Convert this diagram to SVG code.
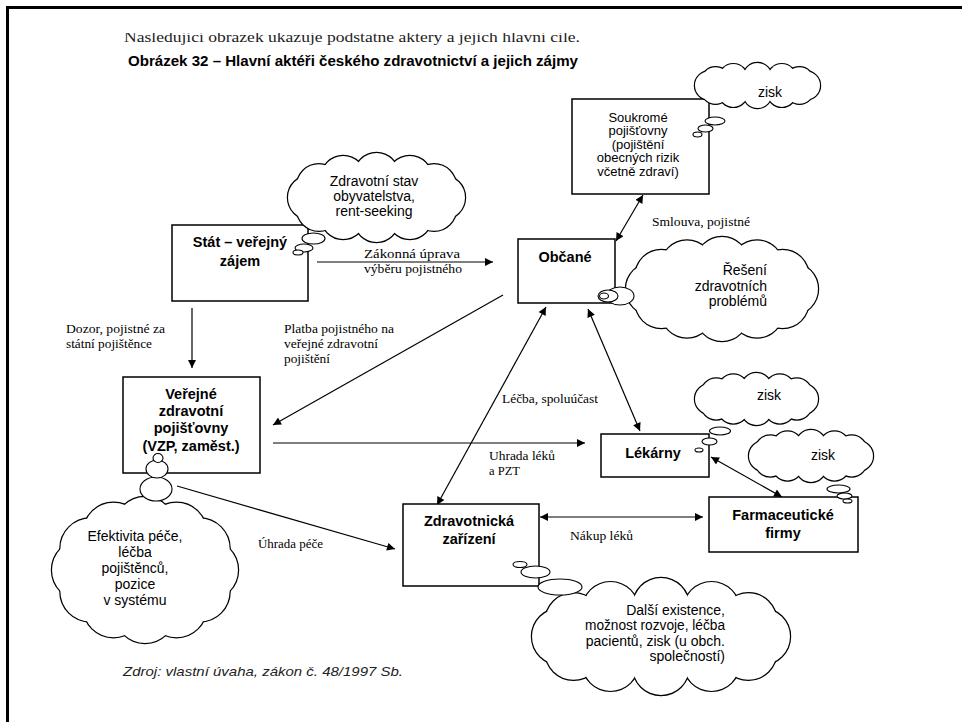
<svg xmlns="http://www.w3.org/2000/svg" xmlns:xlink="http://www.w3.org/1999/xlink" width="962" height="722" viewBox="0 0 962 722">
<style>
.box{fill:#fff;stroke:#000;stroke-width:1.5}
.bt{font-family:"Liberation Sans",Arial,sans-serif;font-weight:bold;font-size:14.5px;text-anchor:middle;fill:#000}
.ct{font-family:"Liberation Sans",Arial,sans-serif;font-size:14px;fill:#000}
.st{font-family:"Liberation Sans",Arial,sans-serif;font-size:13px;fill:#000;text-anchor:middle}
.lb{font-family:"Liberation Serif","Times New Roman",serif;font-size:13px;fill:#000}
.ln{stroke:#000;stroke-width:1.2;fill:none}
.one{marker-end:url(#ah)}
.two{marker-start:url(#ah);marker-end:url(#ah)}
.cs{fill:#fff;stroke:#000;stroke-width:2.4}
.cf{fill:#fff;stroke:none}
.bub{fill:#fff;stroke:#000;stroke-width:1.1}
</style>
<defs>
<marker id="ah" viewBox="0 0 10 10" refX="10" refY="5" markerWidth="10" markerHeight="8" markerUnits="userSpaceOnUse" orient="auto-start-reverse"><path d="M0,0 L10,5 L0,10 z" fill="#000"/></marker>
<clipPath id="introClip"><rect x="0" y="33" width="962" height="30"/></clipPath>
<g id="cA">
<circle cx="443" cy="197.5" r="22"/><circle cx="434.1" cy="208.8" r="22"/><circle cx="409.8" cy="217" r="22"/><circle cx="376.5" cy="220" r="22"/><circle cx="343.2" cy="217" r="22"/><circle cx="318.9" cy="208.8" r="22"/><circle cx="310" cy="197.5" r="22"/><circle cx="318.9" cy="186.2" r="22"/><circle cx="343.2" cy="178" r="22"/><circle cx="376.5" cy="175" r="22"/><circle cx="409.8" cy="178" r="22"/><circle cx="434.1" cy="186.2" r="22"/>
<ellipse cx="376.5" cy="197.5" rx="66.5" ry="22.5" stroke="none"/>
</g>
<g id="cB">
<circle cx="806" cy="85.5" r="14"/><circle cx="799.5" cy="89.8" r="14"/><circle cx="781.8" cy="92.9" r="14"/><circle cx="757.5" cy="94" r="14"/><circle cx="733.3" cy="92.9" r="14"/><circle cx="715.5" cy="89.8" r="14"/><circle cx="709" cy="85.5" r="14"/><circle cx="715.5" cy="81.3" r="14"/><circle cx="733.3" cy="78.1" r="14"/><circle cx="757.5" cy="77" r="14"/><circle cx="781.8" cy="78.1" r="14"/><circle cx="799.5" cy="81.3" r="14"/>
<ellipse cx="757.5" cy="85.5" rx="48.5" ry="8.5" stroke="none"/>
</g>
<g id="cC">
<circle cx="792" cy="289" r="26"/><circle cx="782.6" cy="302" r="26"/><circle cx="757" cy="311.5" r="26"/><circle cx="722" cy="315" r="26"/><circle cx="687" cy="311.5" r="26"/><circle cx="661.4" cy="302" r="26"/><circle cx="652" cy="289" r="26"/><circle cx="661.4" cy="276" r="26"/><circle cx="687" cy="266.5" r="26"/><circle cx="722" cy="263" r="26"/><circle cx="757" cy="266.5" r="26"/><circle cx="782.6" cy="276" r="26"/>
<ellipse cx="722" cy="289" rx="70" ry="26" stroke="none"/>
</g>
<g id="cD">
<circle cx="803" cy="399" r="15"/><circle cx="796.8" cy="404.5" r="15"/><circle cx="779.8" cy="408.5" r="15"/><circle cx="756.5" cy="410" r="15"/><circle cx="733.3" cy="408.5" r="15"/><circle cx="716.2" cy="404.5" r="15"/><circle cx="710" cy="399" r="15"/><circle cx="716.2" cy="393.5" r="15"/><circle cx="733.3" cy="389.5" r="15"/><circle cx="756.5" cy="388" r="15"/><circle cx="779.8" cy="389.5" r="15"/><circle cx="796.8" cy="393.5" r="15"/>
<ellipse cx="756.5" cy="399" rx="46.5" ry="11" stroke="none"/>
</g>
<g id="cE">
<circle cx="858" cy="456" r="15"/><circle cx="851.7" cy="461.5" r="15"/><circle cx="834.5" cy="465.5" r="15"/><circle cx="811" cy="467" r="15"/><circle cx="787.5" cy="465.5" r="15"/><circle cx="770.3" cy="461.5" r="15"/><circle cx="764" cy="456" r="15"/><circle cx="770.3" cy="450.5" r="15"/><circle cx="787.5" cy="446.5" r="15"/><circle cx="811" cy="445" r="15"/><circle cx="834.5" cy="446.5" r="15"/><circle cx="851.7" cy="450.5" r="15"/>
<ellipse cx="811" cy="456" rx="47" ry="11" stroke="none"/>
</g>
<g id="cF">
<circle cx="208" cy="570" r="30"/><circle cx="199.6" cy="591.5" r="30"/><circle cx="176.5" cy="607.2" r="30"/><circle cx="145" cy="613" r="30"/><circle cx="113.5" cy="607.2" r="30"/><circle cx="90.4" cy="591.5" r="30"/><circle cx="82" cy="570" r="30"/><circle cx="90.4" cy="548.5" r="30"/><circle cx="113.5" cy="532.8" r="30"/><circle cx="145" cy="527" r="30"/><circle cx="176.5" cy="532.8" r="30"/><circle cx="199.6" cy="548.5" r="30"/>
<ellipse cx="145" cy="570" rx="63" ry="43" stroke="none"/>
</g>
<g id="cG">
<circle cx="762" cy="636.5" r="28"/><circle cx="748.5" cy="651.8" r="28"/><circle cx="711.5" cy="662.9" r="28"/><circle cx="661" cy="667" r="28"/><circle cx="610.5" cy="662.9" r="28"/><circle cx="573.5" cy="651.8" r="28"/><circle cx="560" cy="636.5" r="28"/><circle cx="573.5" cy="621.2" r="28"/><circle cx="610.5" cy="610.1" r="28"/><circle cx="661" cy="606" r="28"/><circle cx="711.5" cy="610.1" r="28"/><circle cx="748.5" cy="621.2" r="28"/>
<ellipse cx="661" cy="636.5" rx="101" ry="30.5" stroke="none"/>
</g>
</defs>
<rect x="0" y="0" width="962" height="722" fill="#fff"/>
<g id="frame">
<line x1="6" y1="7.5" x2="962" y2="7.5" stroke="#000" stroke-width="3"/>
<line x1="7.5" y1="6" x2="7.5" y2="722" stroke="#000" stroke-width="3"/>
</g>
<g id="header">
<text x="124" y="42" clip-path="url(#introClip)" font-family="'Liberation Serif','Times New Roman',serif" font-size="14.5" textLength="456" lengthAdjust="spacingAndGlyphs" fill="#222">Nasledujici obrazek ukazuje podstatne aktery a jejich hlavni cile.</text>
<text x="128" y="66" font-family="'Liberation Sans',Arial,sans-serif" font-weight="bold" font-size="14" textLength="450" lengthAdjust="spacingAndGlyphs" fill="#000">Obrázek 32 – Hlavní aktéři  českého  zdravotnictví  a jejich zájmy</text>
</g>
<g id="connectors">
<line class="ln one" x1="317" y1="262" x2="493" y2="262"/>
<text class="lb" x="364" y="258" textLength="96" lengthAdjust="spacingAndGlyphs">Zákonná úprava</text>
<text class="lb" x="364" y="273" textLength="98" lengthAdjust="spacingAndGlyphs">výběru pojistného</text>
<line class="ln one" x1="192" y1="308" x2="192" y2="368"/>
<text class="lb" x="66" y="333" textLength="99" lengthAdjust="spacingAndGlyphs">Dozor, pojistné za</text>
<text class="lb" x="66" y="348" textLength="86" lengthAdjust="spacingAndGlyphs">státní pojištěnce</text>
<line class="ln one" x1="503" y1="295" x2="273" y2="425"/>
<text class="lb" x="284" y="333" textLength="110" lengthAdjust="spacingAndGlyphs">Platba pojistného na</text>
<text class="lb" x="284" y="348" textLength="94" lengthAdjust="spacingAndGlyphs">veřejné zdravotní</text>
<text class="lb" x="284" y="363" textLength="46" lengthAdjust="spacingAndGlyphs">pojištění</text>
<line class="ln one" x1="273" y1="443" x2="585" y2="443"/>
<text class="lb" x="489" y="460" textLength="66" lengthAdjust="spacingAndGlyphs">Uhrada léků</text>
<text class="lb" x="489" y="475" textLength="31" lengthAdjust="spacingAndGlyphs">a PZT</text>
<line class="ln one" x1="177" y1="486" x2="395" y2="549"/>
<text class="lb" x="258" y="548" textLength="65" lengthAdjust="spacingAndGlyphs">Úhrada péče</text>
<line class="ln two" x1="616" y1="241" x2="643" y2="195"/>
<text class="lb" x="652" y="226" textLength="98" lengthAdjust="spacingAndGlyphs">Smlouva, pojistné</text>
<line class="ln two" x1="546" y1="307" x2="437" y2="505"/>
<text class="lb" x="502" y="403" textLength="96" lengthAdjust="spacingAndGlyphs">Léčba, spoluúčast</text>
<line class="ln two" x1="588" y1="309" x2="640" y2="431"/>
<line class="ln two" x1="711" y1="457" x2="782" y2="497"/>
<line class="ln two" x1="540" y1="517" x2="703" y2="517"/>
<text class="lb" x="570" y="540" textLength="63" lengthAdjust="spacingAndGlyphs">Nákup léků</text>
</g>
<g id="soukrome">
<rect class="box" x="572" y="99" width="137" height="95"/>
<text class="st" x="638" y="121.5">Soukromé</text>
<text class="st" x="638" y="135">pojišťovny</text>
<text class="st" x="638" y="148.5">(pojištění</text>
<text class="st" x="638" y="162">obecných rizik</text>
<text class="st" x="638" y="175.5">včetně zdraví)</text>
</g>
<g id="cloud-soukrome">
<use xlink:href="#cB" class="cs"/><use xlink:href="#cB" class="cf"/>
<text class="ct" x="770" y="97" text-anchor="middle">zisk</text>
<ellipse class="bub" cx="715" cy="121" rx="10" ry="4"/>
<ellipse class="bub" cx="705.5" cy="128.5" rx="7.5" ry="3.5"/>
<ellipse class="bub" cx="697.5" cy="134.5" rx="4.5" ry="2.5"/>
</g>
<g id="stat">
<rect class="box" x="172" y="225" width="136" height="76"/>
<text class="bt" x="240" y="247">Stát – veřejný</text>
<text class="bt" x="240" y="266">zájem</text>
</g>
<g id="cloud-stat">
<use xlink:href="#cA" class="cs"/><use xlink:href="#cA" class="cf"/>
<text class="ct" x="374" y="186" text-anchor="middle">Zdravotní stav</text>
<text class="ct" x="374" y="201" text-anchor="middle">obyvatelstva,</text>
<text class="ct" x="374" y="216" text-anchor="middle">rent-seeking</text>
<ellipse class="bub" cx="313.5" cy="238.5" rx="11.5" ry="5.5"/>
<ellipse class="bub" cx="304" cy="248" rx="9" ry="4"/>
<ellipse class="bub" cx="298" cy="252.5" rx="5" ry="2.5"/>
</g>
<g id="obcane">
<rect class="box" x="518" y="239" width="97" height="64"/>
<text class="bt" x="565" y="262">Občané</text>
</g>
<g id="cloud-obcane">
<use xlink:href="#cC" class="cs"/><use xlink:href="#cC" class="cf"/>
<text class="ct" x="767" y="275" text-anchor="end">Řešení</text>
<text class="ct" x="767" y="291" text-anchor="end">zdravotních</text>
<text class="ct" x="767" y="306" text-anchor="end">problémů</text>
<ellipse class="bub" cx="620" cy="296" rx="14" ry="9"/>
<ellipse class="bub" cx="608" cy="296" rx="10" ry="6"/>
<ellipse class="bub" cx="604" cy="296" rx="4.5" ry="3"/>
</g>
<g id="verejne">
<rect class="box" x="123" y="377" width="137" height="96"/>
<text class="bt" x="191" y="399">Veřejné</text>
<text class="bt" x="191" y="416">zdravotní</text>
<text class="bt" x="191" y="433">pojišťovny</text>
<text class="bt" x="191" y="451">(VZP, zaměst.)</text>
</g>
<g id="cloud-verejne">
<use xlink:href="#cF" class="cs"/><use xlink:href="#cF" class="cf"/>
<text class="ct" x="135" y="541" text-anchor="middle">Efektivita péče,</text>
<text class="ct" x="135" y="557" text-anchor="middle">léčba</text>
<text class="ct" x="135" y="573" text-anchor="middle">pojištěnců,</text>
<text class="ct" x="135" y="589" text-anchor="middle">pozice</text>
<text class="ct" x="135" y="605" text-anchor="middle">v systému</text>
<ellipse class="bub" cx="156" cy="489" rx="16" ry="12"/>
<ellipse class="bub" cx="157" cy="469" rx="11" ry="9"/>
<ellipse class="bub" cx="158" cy="458" rx="5" ry="4.5"/>
</g>
<g id="lekarny">
<rect class="box" x="601" y="434" width="108" height="43"/>
<text class="bt" x="653" y="458">Lékárny</text>
</g>
<g id="cloud-lekarny">
<use xlink:href="#cD" class="cs"/><use xlink:href="#cD" class="cf"/>
<text class="ct" x="769" y="400" text-anchor="middle">zisk</text>
<ellipse class="bub" cx="720" cy="431" rx="10.5" ry="4"/>
<ellipse class="bub" cx="709.5" cy="441.5" rx="7.5" ry="3.5"/>
<ellipse class="bub" cx="699" cy="450" rx="4" ry="2"/>
</g>
<g id="farmaceuticke">
<rect class="box" x="709" y="497" width="149" height="55"/>
<text class="bt" x="783" y="520">Farmaceutické</text>
<text class="bt" x="783" y="538">firmy</text>
</g>
<g id="cloud-farmaceuticke">
<use xlink:href="#cE" class="cs"/><use xlink:href="#cE" class="cf"/>
<text class="ct" x="823" y="460" text-anchor="middle">zisk</text>
<ellipse class="bub" cx="838.5" cy="489" rx="11.5" ry="4"/>
<ellipse class="bub" cx="844.5" cy="496" rx="7.5" ry="3"/>
<ellipse class="bub" cx="847.5" cy="501" rx="4.5" ry="2"/>
</g>
<g id="zdravotnicka">
<rect class="box" x="403" y="504" width="136" height="82"/>
<text class="bt" x="469" y="526">Zdravotnická</text>
<text class="bt" x="469" y="544">zařízení</text>
</g>
<g id="cloud-zdravotnicka">
<use xlink:href="#cG" class="cs"/><use xlink:href="#cG" class="cf"/>
<text class="ct" x="725" y="615" text-anchor="end">Další existence,</text>
<text class="ct" x="725" y="630" text-anchor="end" textLength="140" lengthAdjust="spacingAndGlyphs">možnost rozvoje, léčba</text>
<text class="ct" x="725" y="646" text-anchor="end">pacientů, zisk (u obch.</text>
<text class="ct" x="725" y="661" text-anchor="end">společností)</text>
<ellipse class="bub" cx="560" cy="587" rx="22" ry="8"/>
<ellipse class="bub" cx="535.5" cy="572" rx="14.5" ry="6"/>
<ellipse class="bub" cx="520" cy="564.5" rx="7" ry="3"/>
</g>
<g id="source">
<text x="123" y="676" font-family="'Liberation Sans',Arial,sans-serif" font-style="italic" font-size="13.5" textLength="280" lengthAdjust="spacingAndGlyphs" fill="#222">Zdroj: vlastní úvaha, zákon č. 48/1997 Sb.</text>
</g>
</svg>
